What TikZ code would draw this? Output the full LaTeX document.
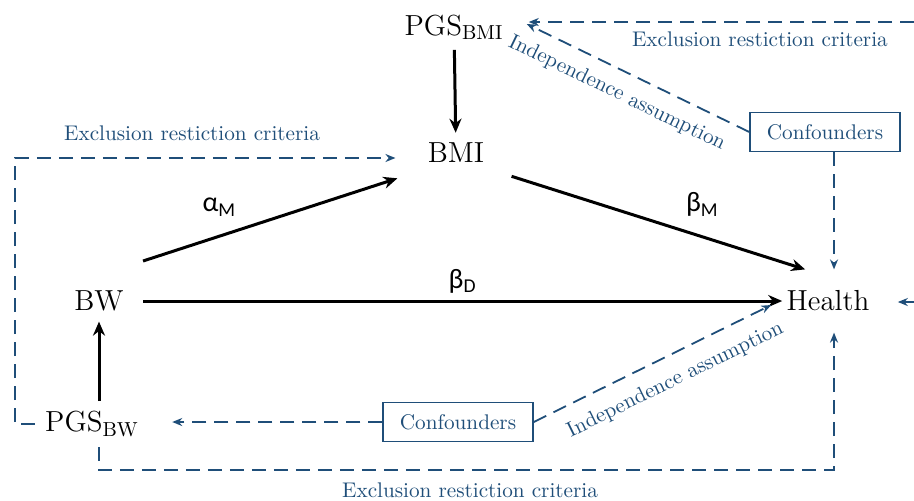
\documentclass[tikz,border=0pt]{standalone}
\usepackage{fontspec}
\newfontfamily\greekfont{Carlito}
\usetikzlibrary{arrows.meta}
\definecolor{pathblue}{RGB}{31,78,121}
\tikzset{
    var/.style={font=\fontsize{14.5}{17}\selectfont, inner sep=5pt},
    causal/.style={line width=1.5pt, -{Stealth[length=7pt,width=6pt]}},
    assume/.style={pathblue, line width=0.9pt, dash pattern=on 7pt off 4pt,
        -{Stealth[length=5pt,width=4pt]}},
    note/.style={pathblue, font=\fontsize{10.6}{12}\selectfont},
    confbox/.style={draw=pathblue, line width=0.7pt, text=pathblue,
        font=\fontsize{10.6}{12}\selectfont, minimum width=75pt, minimum height=19.5pt},
    coef/.style={font=\greekfont\fontsize{14}{16}\selectfont}
}

\begin{document}
\begin{tikzpicture}[x=0.5pt, y=-0.5pt]
            \useasboundingbox (0,0) rectangle (914,500);
            % variables
            \node [var] (pgsbmi) at (454,27) {PGS\textsubscript{BMI}};
            \node [var] (bmi) at (456,153) {BMI};
            \node [var] (bw) at (99,301) {BW};
            \node [var] (health) at (828,301) {Health};
            \node [var] (pgsbw) at (92,424) {PGS\textsubscript{BW}};
            \node [confbox] (conftop) at (825,132) {Confounders};
            \node [confbox] (confbot) at (458,422) {Confounders};
            % picture is cut at the right edge
            \coordinate (rtop) at (914,22);
            \coordinate (rhealth) at (914,302);
            \coordinate (hn) at ([xshift=3pt,yshift=5.5pt]health.north);
            \coordinate (hs) at ([xshift=3pt,yshift=-5.5pt]health.south);
            % causal paths
            \draw[causal] (pgsbmi) -- (bmi);
            \draw[causal] (bw |- pgsbw.north) -- (bw.south);
            \draw[causal] ([xshift=4.5pt,yshift=20pt]bw.east) -- ([xshift=-10pt,yshift=-2.5pt]bmi.south west)
                node[coef, pos=0.3, above=6pt] {α\textsubscript{M}};
            \draw[causal] ([xshift=8.5pt,yshift=-1.5pt]bmi.south east) -- ([xshift=14.5pt,yshift=5.5pt]health.north west)
                node[coef, pos=0.65, above=6pt] {β\textsubscript{M}};
            \draw[causal] ([xshift=4.5pt]bw.east) -- ([xshift=3pt]bw.east -| health.west)
                node[coef, pos=0.5, above] {β\textsubscript{D}};
            % assumptions
            \draw[assume] (pgsbw.west) -- ++(-10pt,0) |- ([xshift=-11pt,yshift=-2.5pt]bmi.west);
            \node[note] (exleft) at (192,133) {Exclusion restiction criteria};
            \draw[assume] (bw |- pgsbw.south) |- (834,470) -- (hs);
            \node[note] (exbot) at (470,490) {Exclusion restiction criteria};
            \draw[assume] (rtop) -- ([xshift=7.5pt]pgsbmi.east |- rtop)
                node[note, pos=0.4, below=1pt] {Exclusion restiction criteria};
            \draw[assume] (rhealth) -- ([xshift=9pt]health.east |- rhealth);
            \draw[assume] (hn |- conftop.south) -- (hn);
            \draw[assume] (conftop.west) -- ([xshift=6.5pt,yshift=1.5pt]pgsbmi.east)
                node[note, pos=0.55, sloped, below=3pt] {Independence assumption};
            \draw[assume] (confbot.west) -- ([xshift=11.5pt]pgsbw.east |- confbot);
            \draw[assume] (confbot.east) -- ([xshift=-2.5pt,yshift=-2pt]health.west)
                node[note, pos=0.55, sloped, below=4pt] {Independence assumption};
        \end{tikzpicture}
\end{document}
